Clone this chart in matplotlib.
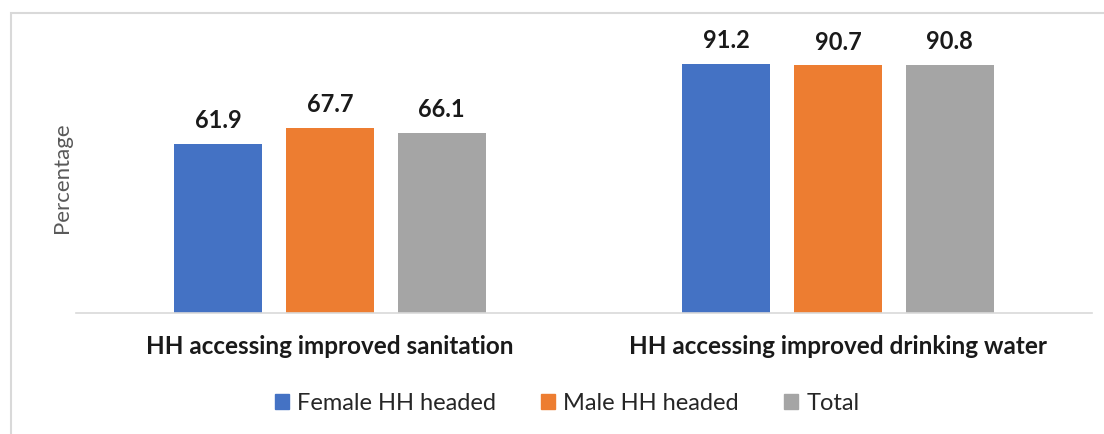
import numpy as np
import matplotlib.pyplot as plt
from matplotlib.patches import Rectangle, Patch

categories = ["HH accessing improved sanitation", "HH accessing improved drinking water"]
series = ["Female HH headed", "Male HH headed", "Total"]
female = [61.9, 91.2]
male = [67.7, 90.7]
total = [66.1, 90.8]
colors = ["#4472C4", "#ED7D31", "#A5A5A5"]

plt.rcParams['font.family'] = ['Lato', 'DejaVu Sans']

fig = plt.figure(figsize=(11.04, 4.34), dpi=100)
W, H = 1104, 434
ax = fig.add_axes([76 / W, 1 - 313 / H, (1092 - 76) / W, (313 - 40) / H])

# outer chart border (left and top visible, rest cropped)
fig.patches.append(Rectangle((11 / W, -0.1), 1.2, 1 - 13 / H + 0.1, transform=fig.transFigure,
                             fill=False, edgecolor="#D9D9D9", linewidth=1.5))

x = np.arange(len(categories))
width = 0.173
offs = [-0.22, 0, 0.22]
for vals, off, c in zip([female, male, total], offs, colors):
    bars = ax.bar(x + off, vals, width, color=c)
    for b, v in zip(bars, vals):
        ax.text(b.get_x() + b.get_width() / 2, v + 4.3, f"{v:.1f}", ha="center", va="bottom",
                fontsize=17, fontweight="bold", color="#1a1a1a")

ax.set_xlim(-0.5, 1.5)
ax.set_ylim(0, 100)
ax.set_xticks(x)
ax.set_xticklabels(categories, fontsize=17.5, fontweight="bold", color="#1a1a1a")
ax.tick_params(axis="x", length=0, pad=16)
ax.set_yticks([])
for s in ["top", "right", "left"]:
    ax.spines[s].set_visible(False)
ax.spines["bottom"].set_color("#D9D9D9")
ax.spines["bottom"].set_linewidth(1.2)

fig.text(62 / W, 1 - 178 / H, "Percentage", rotation=90, ha="center", va="center",
         fontsize=16, color="#595959")

handles = [Patch(color=c) for c in colors]
fig.legend(handles, series, loc="center", bbox_to_anchor=(567 / W, 1 - 403 / H), ncol=3,
           frameon=False, fontsize=17, handlelength=0.6, handleheight=0.6, columnspacing=1.9,
           handletextpad=0.35, labelcolor="#262626")

fig.savefig("out.png", dpi=100)
